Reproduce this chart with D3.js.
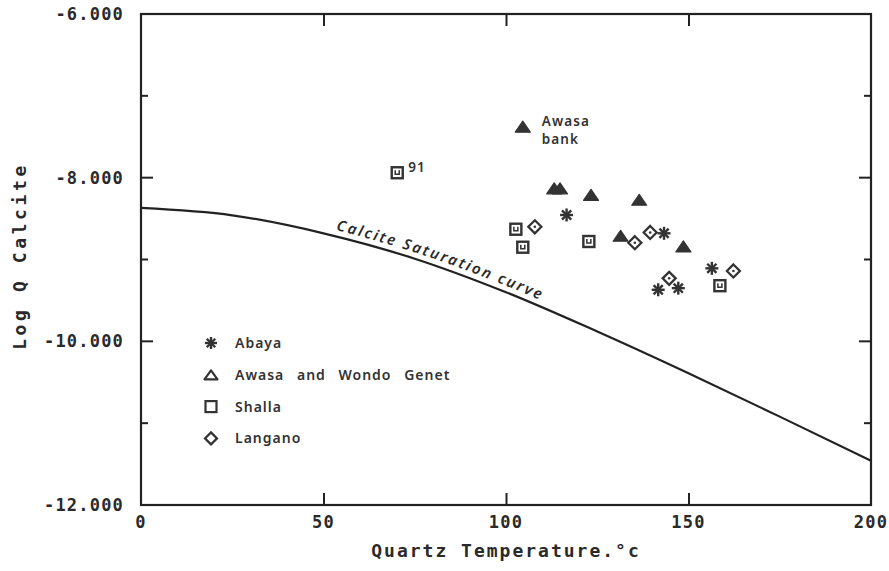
<!DOCTYPE html>
<html>
<head>
<meta charset="utf-8">
<script src="https://cdn.jsdelivr.net/npm/d3@7"></script>
<style>
  html, body { margin: 0; padding: 0; background: #fff; }
  svg { display: block; }
  .tick-label { font-family: "DejaVu Sans Mono", "Liberation Mono", monospace; font-weight: bold; font-size: 17px; fill: #2a2a2a; letter-spacing: 1.2px; }
  .axis-title { font-family: "DejaVu Sans Mono", "Liberation Mono", monospace; font-weight: bold; font-size: 18px; fill: #2a2a2a; letter-spacing: 2px; }
  .axis-title.yt { letter-spacing: 3.6px; }
  .note { font-family: "Noto Sans", "DejaVu Sans", sans-serif; font-size: 13.5px; fill: #333; font-weight: 600; letter-spacing: 1.1px; }
  .legend-text { font-family: "Noto Sans", "DejaVu Sans", sans-serif; font-size: 14px; fill: #333; font-weight: 600; letter-spacing: 1px; word-spacing: 8px; }
  .curve-label { font-family: "Noto Sans", "DejaVu Sans", sans-serif; font-style: italic; font-weight: 600; font-size: 15px; fill: #2a2a2a; letter-spacing: 2.1px; }
</style>
</head>
<body>
<svg id="chart" width="889" height="571"></svg>
<script>
// Quartz geothermometer temperature (°C) against log Q of calcite, by lake basin
const abayaT     = [116.6, 143.3, 156.4, 141.7, 147.2];
const abayaLogQ  = [-8.456, -8.68, -9.108, -9.37, -9.35];

const awasaT     = [104.6, 113.2, 114.8, 123.3, 136.5, 131.4, 148.6];
const awasaLogQ  = [-7.377, -8.13, -8.13, -8.21, -8.27, -8.71, -8.84];

const shallaT    = [70.2, 102.7, 104.6, 122.7, 158.6];
const shallaLogQ = [-7.94, -8.63, -8.85, -8.78, -9.32];

const langanoT    = [107.9, 135.3, 139.5, 144.7, 162.3];
const langanoLogQ = [-8.60, -8.795, -8.67, -9.23, -9.14];

// Calcite saturation curve
const satT    = [0, 25, 50, 75, 100, 125, 150, 175, 200];
const satLogQ = [-8.37, -8.46, -8.68, -8.99, -9.40, -9.88, -10.39, -10.92, -11.46];

// Axis ticks
const xTicks = [0, 50, 100, 150, 200];
const xTickLabels = ["0", "50", "100", "150", "200"];
const yTicks = [-6, -8, -10, -12];
const yTickLabels = ["-6.000", "-8.000", "-10.000", "-12.000"];
const yMinorTicks = [-7, -9, -11];

const legendNames = ["Abaya", "Awasa and Wondo Genet", "Shalla", "Langano"];

const svg = d3.select("#chart");
const plotLeft = 141, plotRight = 871, plotTop = 14, plotBottom = 505;

const x = d3.scaleLinear().domain([0, 200]).range([plotLeft, plotRight]);
const y = d3.scaleLinear().domain([-12, -6]).range([plotBottom, plotTop]);

const ink = "#222";

// Frame
svg.append("rect")
  .attr("x", plotLeft).attr("y", plotTop)
  .attr("width", plotRight - plotLeft).attr("height", plotBottom - plotTop)
  .attr("fill", "none").attr("stroke", ink).attr("stroke-width", 2.2);

// Bottom and top axes: inward ticks
const xAxisBottom = d3.axisBottom(x).tickValues(xTicks.slice(1, -1))
  .tickSizeInner(-12).tickSizeOuter(0).tickFormat("");
const gxb = svg.append("g").attr("transform", `translate(0,${plotBottom})`).call(xAxisBottom);
gxb.select(".domain").remove();
gxb.selectAll("line").attr("stroke", ink).attr("stroke-width", 2);

const xAxisTop = d3.axisTop(x).tickValues(xTicks.slice(1, -1))
  .tickSizeInner(-12).tickSizeOuter(0).tickFormat("");
const gxt = svg.append("g").attr("transform", `translate(0,${plotTop})`).call(xAxisTop);
gxt.select(".domain").remove();
gxt.selectAll("line").attr("stroke", ink).attr("stroke-width", 2);

svg.append("g").selectAll("text")
  .data(xTicks)
  .join("text")
  .attr("class", "tick-label")
  .attr("x", d => x(d))
  .attr("y", 528)
  .attr("text-anchor", "middle")
  .text((d, i) => xTickLabels[i]);

// Left/right axes: major ticks at -8 and -10, minor ticks between
function yTickLines(xPos, dir) {
  const g = svg.append("g");
  g.selectAll("line.major")
    .data(yTicks.slice(1, -1))
    .join("line")
    .attr("class", "major")
    .attr("x1", xPos).attr("x2", xPos + dir * 12)
    .attr("y1", d => y(d)).attr("y2", d => y(d))
    .attr("stroke", ink).attr("stroke-width", 2);
  g.selectAll("line.minor")
    .data(yMinorTicks)
    .join("line")
    .attr("class", "minor")
    .attr("x1", xPos).attr("x2", xPos + dir * 7)
    .attr("y1", d => y(d)).attr("y2", d => y(d))
    .attr("stroke", ink).attr("stroke-width", 2);
}
yTickLines(plotLeft, 1);
yTickLines(plotRight, -1);

svg.append("g").selectAll("text")
  .data(yTicks)
  .join("text")
  .attr("class", "tick-label")
  .attr("x", 124)
  .attr("y", d => y(d) + 6)
  .attr("text-anchor", "end")
  .text((d, i) => yTickLabels[i]);

// Axis titles
svg.append("text").attr("class", "axis-title")
  .attr("x", (plotLeft + plotRight) / 2).attr("y", 557)
  .attr("text-anchor", "middle")
  .text("Quartz Temperature.°c");

svg.append("text").attr("class", "axis-title yt")
  .attr("transform", "translate(26,256) rotate(-90)")
  .attr("text-anchor", "middle")
  .text("Log Q Calcite");

// Saturation curve
const satPts = satT.map((t, i) => [t, satLogQ[i]]);
const line = d3.line().x(d => x(d[0])).y(d => y(d[1])).curve(d3.curveMonotoneX);
const curvePath = svg.append("path")
  .attr("id", "satCurve")
  .attr("d", line(satPts))
  .attr("fill", "none").attr("stroke", ink).attr("stroke-width", 2.2);

// Label running along the curve, starting near 53 °C
const pathNode = curvePath.node();
const total = pathNode.getTotalLength();
let lo = 0, hi = total;
const targetX = x(53);
for (let k = 0; k < 40; k++) {
  const mid = (lo + hi) / 2;
  if (pathNode.getPointAtLength(mid).x < targetX) lo = mid; else hi = mid;
}
svg.append("text").attr("class", "curve-label")
  .attr("dy", -6)
  .append("textPath")
  .attr("href", "#satCurve")
  .attr("startOffset", lo)
  .text("Calcite Saturation curve");

// Marker shapes
const markColor = "#333";
function drawAsterisk(g, r) {
  for (let a = 0; a < 4; a++) {
    const ang = a * Math.PI / 4;
    g.append("line")
      .attr("x1", -r * Math.cos(ang)).attr("y1", -r * Math.sin(ang))
      .attr("x2", r * Math.cos(ang)).attr("y2", r * Math.sin(ang))
      .attr("stroke", markColor).attr("stroke-width", 2.4);
  }
}
function trianglePath(w, h) {
  return `M${-w / 2},${h / 2}L0,${-h / 2}L${w / 2},${h / 2}Z`;
}

const pts = svg.append("g");

// Abaya: asterisks
abayaT.forEach((t, i) => {
  const g = pts.append("g").attr("transform", `translate(${x(t)},${y(abayaLogQ[i])})`);
  drawAsterisk(g, 6.5);
});

// Awasa and Wondo Genet: filled triangles
pts.selectAll("path.awasa")
  .data(awasaT.map((t, i) => [t, awasaLogQ[i]]))
  .join("path")
  .attr("class", "awasa")
  .attr("transform", d => `translate(${x(d[0])},${y(d[1])})`)
  .attr("d", trianglePath(15, 11))
  .attr("fill", markColor).attr("stroke", markColor).attr("stroke-width", 1.2)
  .attr("stroke-linejoin", "round");

// Shalla: squares
shallaT.forEach((t, i) => {
  const g = pts.append("g").attr("transform", `translate(${x(t)},${y(shallaLogQ[i])})`);
  g.append("rect").attr("x", -5.5).attr("y", -5.5).attr("width", 11).attr("height", 11)
    .attr("fill", "#fff").attr("stroke", markColor).attr("stroke-width", 2.4);
  g.append("path").attr("d", "M-2,-2.5V1.5H2V-2.5")
    .attr("fill", "none").attr("stroke", markColor).attr("stroke-width", 1.5);
});

// Langano: diamonds
langanoT.forEach((t, i) => {
  const g = pts.append("g").attr("transform", `translate(${x(t)},${y(langanoLogQ[i])})`);
  g.append("path").attr("d", "M0,-6.5L6.5,0L0,6.5L-6.5,0Z")
    .attr("fill", "#fff").attr("stroke", markColor).attr("stroke-width", 2.3);
  g.append("circle").attr("r", 1.3).attr("fill", markColor);
});

// Point annotations
svg.append("text").attr("class", "note").attr("x", x(104.6) + 19).attr("y", y(-7.377) - 1).text("Awasa");
svg.append("text").attr("class", "note").attr("x", x(104.6) + 19).attr("y", y(-7.377) + 17).text("bank");
svg.append("text").attr("class", "note").attr("x", x(70.2) + 11).attr("y", y(-7.94) - 1).text("91");

// Legend
const legX = 211, legY0 = 343, legStep = 31.8;
const leg = svg.append("g");
legendNames.forEach((name, i) => {
  const cy = legY0 + i * legStep;
  const g = leg.append("g").attr("transform", `translate(${legX},${cy})`);
  if (i === 0) drawAsterisk(g, 6);
  if (i === 1) g.append("path").attr("d", trianglePath(13, 9)).attr("fill", "none")
    .attr("stroke", markColor).attr("stroke-width", 2.2).attr("stroke-linejoin", "round");
  if (i === 2) g.append("rect").attr("x", -5.5).attr("y", -5.5).attr("width", 11).attr("height", 11)
    .attr("fill", "none").attr("stroke", markColor).attr("stroke-width", 2.2);
  if (i === 3) g.append("path").attr("d", "M0,-6L6,0L0,6L-6,0Z").attr("fill", "none")
    .attr("stroke", markColor).attr("stroke-width", 2.2);
  leg.append("text").attr("class", "legend-text")
    .attr("x", legX + 24).attr("y", cy + 5).text(name);
});
</script>
</body>
</html>
